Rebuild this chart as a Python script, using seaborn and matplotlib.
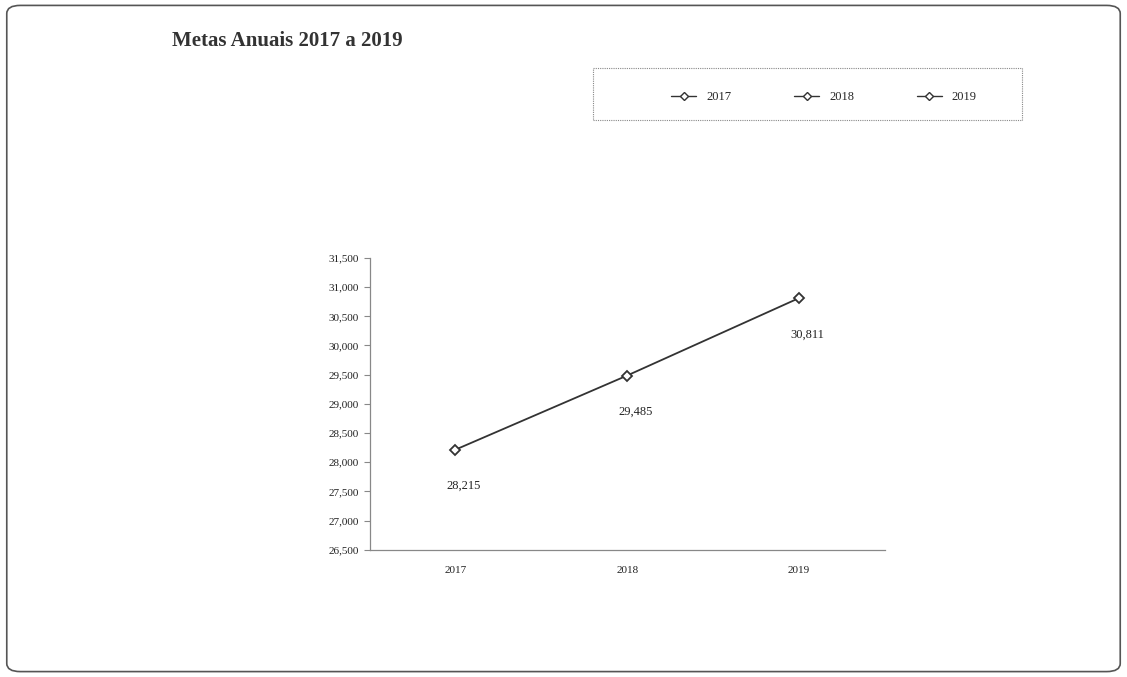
import matplotlib
matplotlib.use("Agg")
import matplotlib.pyplot as plt
import seaborn as sns
import pandas as pd
from matplotlib.lines import Line2D
from matplotlib.patches import FancyBboxPatch, Rectangle
from matplotlib.ticker import FuncFormatter, FixedLocator

# Dados
anos = ["2017", "2018", "2019"]
metas = [28215, 29485, 30811]
rotulos = ["28,215", "29,485", "30,811"]
y_ticks = [26500, 27000, 27500, 28000, 28500, 29000, 29500, 30000, 30500, 31000, 31500]

df = pd.DataFrame({"ano": anos, "meta": metas})

sns.set_style("white")
plt.rcParams["font.family"] = ["Liberation Serif", "DejaVu Serif"]

fig = plt.figure(figsize=(11.27, 6.77), dpi=100)
ax = fig.add_axes([0.328, 0.188, 0.457, 0.431])

cor = "#333333"
sns.lineplot(data=df, x="ano", y="meta", ax=ax, color=cor, linewidth=1.3,
             marker="D", markersize=5, markerfacecolor="white",
             markeredgecolor=cor, markeredgewidth=1.3)

for i, (v, txt) in enumerate(zip(metas, rotulos)):
    ax.annotate(txt, (i, v), xytext=(6, -26), textcoords="offset points",
                ha="center", va="center", fontsize=9, color="#222222")

ax.set_xlim(-0.5, 2.5)
ax.set_ylim(26500, 31500)
ax.set_yticks(y_ticks)
ax.yaxis.set_major_formatter(FuncFormatter(lambda v, p: f"{int(v):,}"))
ax.xaxis.set_minor_locator(FixedLocator([0.5, 1.5, 2.5]))
ax.tick_params(axis="x", which="major", length=0, labelsize=8, pad=12, colors="#222222")
ax.tick_params(axis="x", which="minor", length=4, direction="in", color="#888888")
ax.tick_params(axis="y", length=4, labelsize=8, colors="#222222", left=True)
ax.tick_params(axis="y", color="#888888")
ax.set_xlabel("")
ax.set_ylabel("")
for s in ["top", "right"]:
    ax.spines[s].set_visible(False)
for s in ["left", "bottom"]:
    ax.spines[s].set_color("#888888")
    ax.spines[s].set_linewidth(0.9)

# Legenda (caixa desenhada a parte)
caixa = Rectangle((593 / 1127, 1 - 120 / 677), 429 / 1127, 52 / 677,
                  transform=fig.transFigure, fill=False, edgecolor="#888888",
                  linewidth=0.8, linestyle=(0, (1, 1)))
fig.patches.append(caixa)
handles = [Line2D([0], [0], color=cor, linewidth=1.0, marker="D", markersize=4,
                  markerfacecolor="white", markeredgecolor=cor) for _ in anos]
fig.legend(handles, anos, loc="center", bbox_to_anchor=(824 / 1127, 1 - 97 / 677),
           ncol=3, frameon=False, fontsize=9, handlelength=2.0, columnspacing=5.0)

fig.text(0.153, 0.94, "Metas Anuais 2017 a 2019", fontsize=15, fontweight="bold",
         color="#333333", va="center", ha="left")

# Moldura arredondada
borda = FancyBboxPatch((0.006, 0.008), 0.988, 0.984, boxstyle="round,pad=0,rounding_size=0.012",
                       transform=fig.transFigure, fill=False, edgecolor="#555555", linewidth=1.2)
fig.patches.append(borda)

fig.savefig("out.png", dpi=100, facecolor="white")
